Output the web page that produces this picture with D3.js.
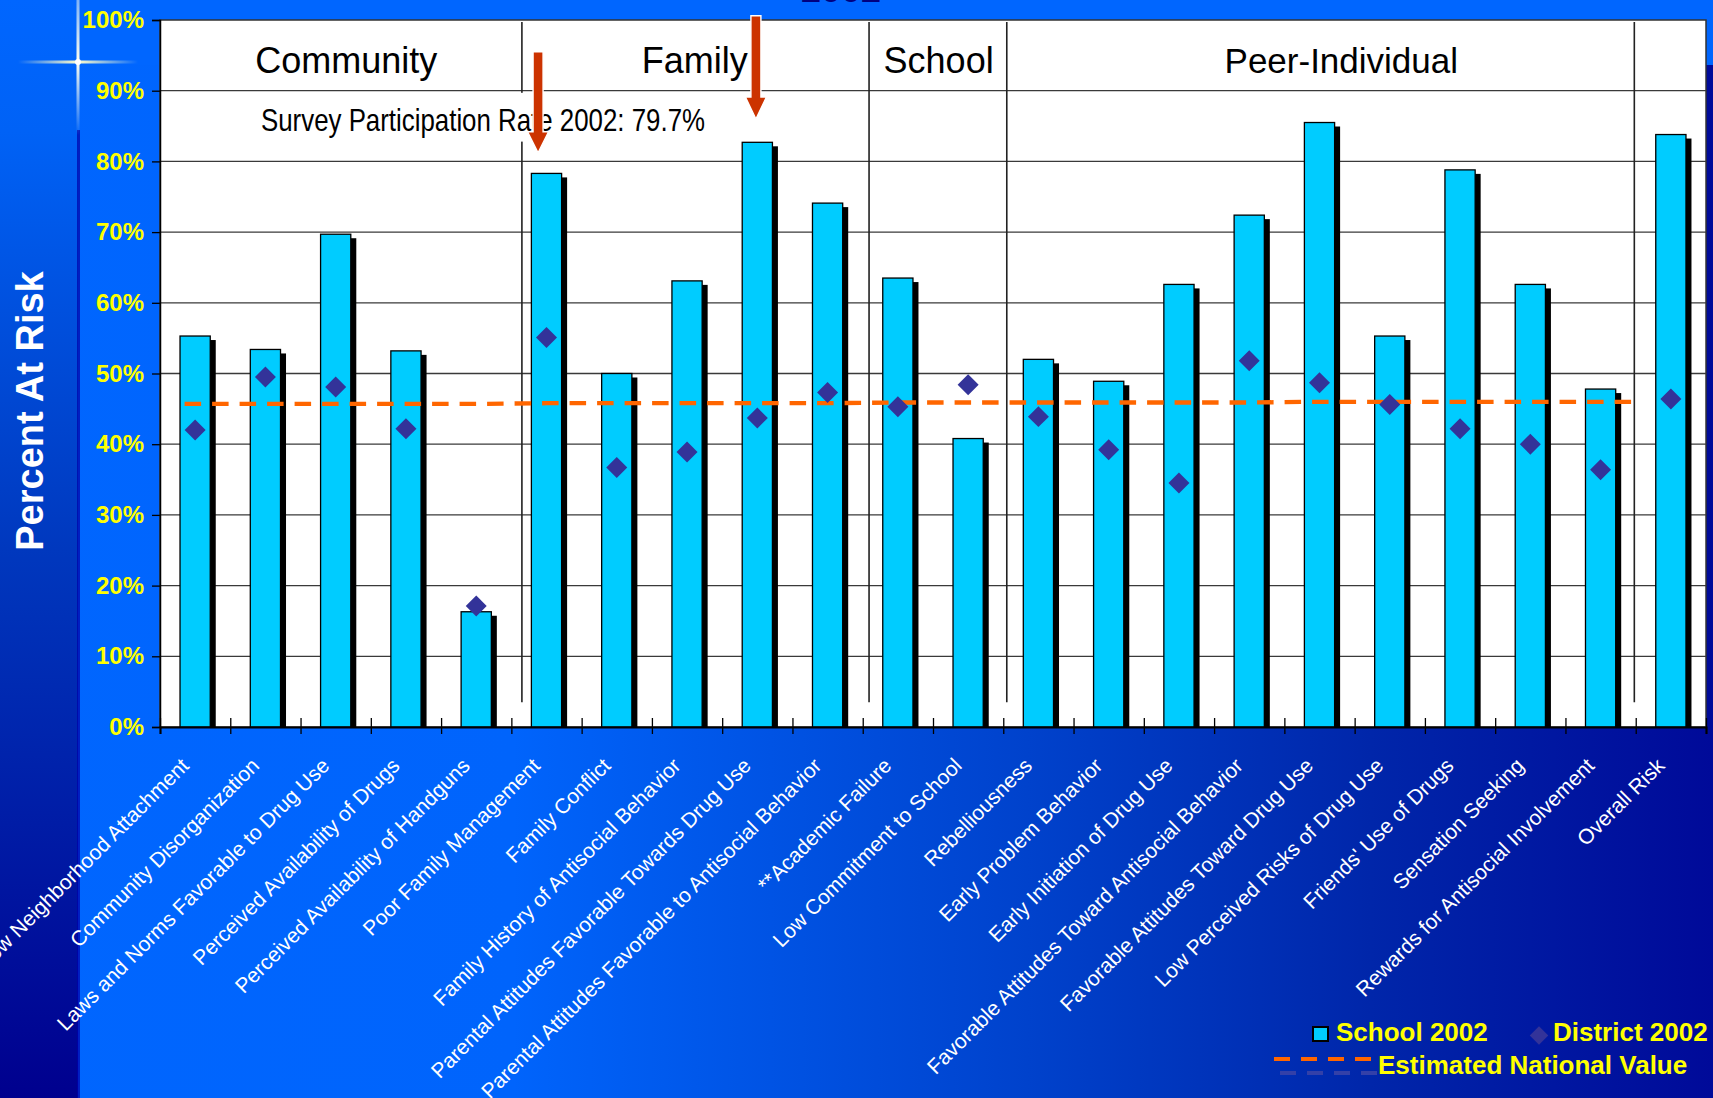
<!DOCTYPE html>
<html lang="en">
<head>
<meta charset="UTF-8">
<title>Risk Factor Profile 2002</title>
<script src="https://d3js.org/d3.v7.min.js"></script>
<style>
  body { margin: 0; background: #0066FF; overflow: hidden; }
  text { font-family: Arial, "Liberation Sans", sans-serif; }
</style>
</head>
<body>
<script>
// ---- data ----
var categories = [
  "Low Neighborhood Attachment", "Community Disorganization", "Laws and Norms Favorable to Drug Use",
  "Perceived Availability of Drugs", "Perceived Availability of Handguns", "Poor Family Management",
  "Family Conflict", "Family History of Antisocial Behavior", "Parental Attitudes Favorable Towards Drug Use",
  "Parental Attitudes Favorable to Antisocial Behavior", "**Academic Failure", "Low Commitment to School",
  "Rebelliousness", "Early Problem Behavior", "Early Initiation of Drug Use",
  "Favorable Attitudes Toward Antisocial Behavior", "Favorable Attitudes Toward Drug Use",
  "Low Perceived Risks of Drug Use", "Friends' Use of Drugs", "Sensation Seeking",
  "Rewards for Antisocial Involvement", "Overall Risk"
];
var schoolValues   = [55.3, 53.4, 69.7, 53.2, 16.3, 78.3, 50.0, 63.1, 82.7, 74.1, 63.5, 40.8, 52.0, 48.9, 62.6, 72.4, 85.5, 55.3, 78.8, 62.6, 47.8, 83.8];
var districtValues = [42.0, 49.5, 48.1, 42.2, 17.1, 55.1, 36.7, 38.9, 43.7, 47.3, 45.3, 48.4, 43.9, 39.2, 34.5, 51.8, 48.7, 45.6, 42.2, 40.0, 36.4, 46.4];
// national estimate, drawn over the first 21 factors (not Overall Risk)
var nationalValues = [45.7, 45.7, 45.7, 45.7, 45.7, 45.8, 45.8, 45.8, 45.8, 45.8, 45.9, 45.9, 45.9, 45.9, 45.9, 45.9, 46.0, 46.0, 46.0, 46.0, 46.0];
var yTicks = [0, 10, 20, 30, 40, 50, 60, 70, 80, 90, 100];

// domain groups, in category units
var groupNames = ["Community", "Family", "School", "Peer-Individual"];
var groupLabelAt = [2.65, 7.61, 11.08, 16.81];
var separatorsAt = [5.15, 10.09, 12.05, 20.98];

// red arrows pointing at two factors
var arrows = [
  {cat: 5, dx: -0.12, from: 95.5, head: 84.2, to: 81.2},
  {cat: 8, dx: -0.02, from: 100.6, head: 89.1, to: 86.0}
];

var W = 1713, H = 1098;
var plotL = 160, plotR = 1706, plotT = 20, plotB = 727;

var svg = d3.select("body").append("svg")
  .attr("width", W).attr("height", H);

var defs = svg.append("defs");

// ---- background ----
var bodyGrad = defs.append("linearGradient").attr("id", "bodyGrad")
  .attr("x1", 0).attr("x2", 1).attr("y1", 0).attr("y2", 0);
[[0, "#0066FF"], [0.3, "#0064FC"], [0.6, "#0042CC"], [0.8, "#0026AA"], [1, "#000A99"]].forEach(function(s) {
  bodyGrad.append("stop").attr("offset", s[0]).attr("stop-color", s[1]);
});
var stripGrad = defs.append("linearGradient").attr("id", "stripGrad")
  .attr("x1", 0).attr("x2", 0).attr("y1", 0).attr("y2", 1);
[[0, "#0066FF"], [0.12, "#0062F6"], [0.5, "#0038BE"], [1, "#00008E"]].forEach(function(s) {
  stripGrad.append("stop").attr("offset", s[0]).attr("stop-color", s[1]);
});
var vSpark = defs.append("linearGradient").attr("id", "vSpark")
  .attr("x1", 0).attr("x2", 0).attr("y1", 0).attr("y2", 1);
[[0, 0.5], [0.46, 1], [1, 0]].forEach(function(s) {
  vSpark.append("stop").attr("offset", s[0]).attr("stop-color", "#FFFFEE").attr("stop-opacity", s[1]);
});
var hSpark = defs.append("linearGradient").attr("id", "hSpark")
  .attr("x1", 0).attr("x2", 1).attr("y1", 0).attr("y2", 0);
[[0, 0], [0.5, 1], [1, 0]].forEach(function(s) {
  hSpark.append("stop").attr("offset", s[0]).attr("stop-color", "#FFFFCC").attr("stop-opacity", s[1]);
});

svg.append("rect").attr("width", W).attr("height", H).attr("fill", "url(#bodyGrad)");
svg.append("rect").attr("width", W).attr("height", 65).attr("fill", "#0066FF");
svg.append("rect").attr("width", 78).attr("height", H).attr("fill", "url(#stripGrad)");
svg.append("rect").attr("x", 77).attr("y", 130).attr("width", 3).attr("height", H - 130)
  .attr("fill", "#0000A8").attr("opacity", 0.7);
svg.append("rect").attr("x", 76.5).attr("y", 0).attr("width", 3).attr("height", 135).attr("fill", "url(#vSpark)");
svg.append("rect").attr("x", 18).attr("y", 60.5).attr("width", 120).attr("height", 3).attr("fill", "url(#hSpark)");
svg.append("circle").attr("cx", 78).attr("cy", 62).attr("r", 3).attr("fill", "#FFFFFF");

// title, mostly cut off by the top edge
svg.append("text").attr("x", 841).attr("y", 2).attr("text-anchor", "middle")
  .attr("font-size", 36).attr("font-weight", "bold").attr("fill", "#000080").text("2002");

// ---- scales ----
var x = d3.scaleBand().domain(categories).range([plotL, plotR]).padding(0);
var xu = d3.scaleLinear().domain([0, categories.length]).range([plotL, plotR]);
var y = d3.scaleLinear().domain([0, 100]).range([plotB, plotT]);
var barW = x.bandwidth() * 0.43;
var cx = function(i) { return x(categories[i]) + x.bandwidth() / 2; };

// ---- plot area ----
svg.append("rect").attr("x", plotL).attr("y", plotT)
  .attr("width", plotR - plotL).attr("height", plotB - plotT)
  .attr("fill", "#FFFFFF").attr("stroke", "#333").attr("stroke-width", 1.5);

svg.append("g").selectAll("line").data(yTicks.slice(1, -1)).join("line")
  .attr("x1", plotL).attr("x2", plotR)
  .attr("y1", d => y(d)).attr("y2", d => y(d))
  .attr("stroke", "#3a3a3a").attr("stroke-width", 1.3);

// group separators and labels
svg.append("g").selectAll("line").data(separatorsAt).join("line")
  .attr("x1", d => xu(d)).attr("x2", d => xu(d))
  .attr("y1", y(99.7)).attr("y2", y(3.5))
  .attr("stroke", "#222").attr("stroke-width", 1.6);

svg.append("g").selectAll("text").data(groupNames).join("text")
  .attr("x", (d, i) => xu(groupLabelAt[i])).attr("y", y(92.5))
  .attr("text-anchor", "middle").attr("font-size", (d, i) => i === 3 ? 35 : 36).attr("fill", "#000")
  .text(d => d);

// survey note with its white box
svg.append("rect").attr("x", 255).attr("y", y(89.7)).attr("width", 458).attr("height", y(82.8) - y(89.7))
  .attr("fill", "#FFFFFF");
svg.append("text").attr("x", 261).attr("y", y(84.3))
  .attr("font-size", 32).attr("fill", "#000")
  .attr("font-family", "'Liberation Sans Narrow', 'Arial Narrow', Arial, sans-serif")
  .attr("textLength", 444).attr("lengthAdjust", "spacingAndGlyphs")
  .text("Survey Participation Rate 2002: 79.7%");

// ---- bars with drop shadow ----
var bars = svg.append("g");
bars.selectAll("rect.shadow").data(schoolValues).join("rect").attr("class", "shadow")
  .attr("x", (d, i) => cx(i) - barW / 2 + 5.5)
  .attr("y", d => y(d) + 4)
  .attr("width", barW)
  .attr("height", d => plotB - y(d) - 4)
  .attr("fill", "#000");
bars.selectAll("rect.bar").data(schoolValues).join("rect").attr("class", "bar")
  .attr("x", (d, i) => cx(i) - barW / 2)
  .attr("y", d => y(d))
  .attr("width", barW)
  .attr("height", d => plotB - y(d))
  .attr("fill", "#00CCFF").attr("stroke", "#000").attr("stroke-width", 1.3);

// ---- national estimate dashed line ----
var natPts = nationalValues.map((v, i) => [cx(i), y(v)]);
natPts.unshift([xu(0.35), y(nationalValues[0])]);
natPts.push([xu(nationalValues.length - 0.02), y(nationalValues[nationalValues.length - 1])]);
svg.append("path").attr("d", d3.line()(natPts))
  .attr("fill", "none").attr("stroke", "#FF6600").attr("stroke-width", 4.3)
  .attr("stroke-dasharray", "16.5 11");

// ---- district diamonds ----
var diamond = d3.symbol().type(d3.symbolSquare).size(220);
svg.append("g").selectAll("path").data(districtValues).join("path")
  .attr("d", diamond)
  .attr("transform", (d, i) => "translate(" + cx(i) + "," + y(d) + ") rotate(45)")
  .attr("fill", "#333399");

// ---- arrows ----
svg.append("g").selectAll("path").data(arrows).join("path")
  .attr("d", function(a) {
    var c = xu(a.cat + 0.5 + a.dx), t = y(a.from), h = y(a.head), p = y(a.to);
    return "M" + (c - 5) + "," + t + "L" + (c + 5) + "," + t + "L" + (c + 5) + "," + h +
           "L" + (c + 10.5) + "," + h + "L" + c + "," + p + "L" + (c - 10.5) + "," + h +
           "L" + (c - 5) + "," + h + "Z";
  })
  .attr("fill", "#CC3300").attr("stroke", "#FFFFFF").attr("stroke-width", 1.4);

// ---- axes ----
var yAxis = svg.append("g").attr("transform", "translate(" + plotL + ",0)")
  .call(d3.axisLeft(y).tickValues(yTicks).tickFormat(d => d + "%").tickSize(8).tickPadding(8));
yAxis.select(".domain").attr("stroke", "#000").attr("stroke-width", 1.5);
yAxis.selectAll(".tick line").attr("stroke", "#000").attr("stroke-width", 1.3);
yAxis.selectAll(".tick text").attr("fill", "#FFFF00").attr("font-size", 24)
  .attr("font-weight", "bold").attr("font-family", "Arial, 'Liberation Sans', sans-serif");

var xAxis = svg.append("g").attr("transform", "translate(0," + plotB + ")")
  .call(d3.axisBottom(xu).tickValues(d3.range(categories.length + 1)).tickSize(7).tickFormat(""));
xAxis.select(".domain").attr("stroke", "#000").attr("stroke-width", 2);
xAxis.selectAll(".tick line").attr("y1", -9).attr("stroke", "#000").attr("stroke-width", 1.3);

svg.append("g").selectAll("text").data(categories).join("text")
  .attr("transform", (d, i) => "translate(" + (cx(i) - 5) + ",767) rotate(-45)")
  .attr("text-anchor", "end").attr("font-size", 21).attr("fill", "#FFFFFF")
  .text(d => d);

svg.append("text")
  .attr("transform", "translate(43,411) rotate(-90)")
  .attr("text-anchor", "middle").attr("font-size", 38).attr("font-weight", "bold")
  .attr("fill", "#FFFFFF").text("Percent At Risk");

// ---- legend ----
var lg = svg.append("g").attr("font-size", 26).attr("font-weight", "bold").attr("fill", "#FFFF00");
lg.append("rect").attr("x", 1313).attr("y", 1027).attr("width", 15).attr("height", 14)
  .attr("fill", "#00CCFF").attr("stroke", "#000").attr("stroke-width", 2);
lg.append("text").attr("x", 1336).attr("y", 1041).text("School 2002");
lg.append("path").attr("d", diamond.size(170)())
  .attr("transform", "translate(1539,1035.5) rotate(45)").attr("fill", "#333399");
lg.append("text").attr("x", 1553).attr("y", 1041).text("District 2002");
lg.append("line").attr("x1", 1280).attr("x2", 1378).attr("y1", 1073).attr("y2", 1073)
  .attr("stroke", "#3340A8").attr("stroke-width", 4).attr("stroke-dasharray", "16 11");
lg.append("line").attr("x1", 1274).attr("x2", 1378).attr("y1", 1059).attr("y2", 1059)
  .attr("stroke", "#FF6600").attr("stroke-width", 4).attr("stroke-dasharray", "16 11");
lg.append("text").attr("x", 1378).attr("y", 1074).text("Estimated National Value");
</script>
</body>
</html>
